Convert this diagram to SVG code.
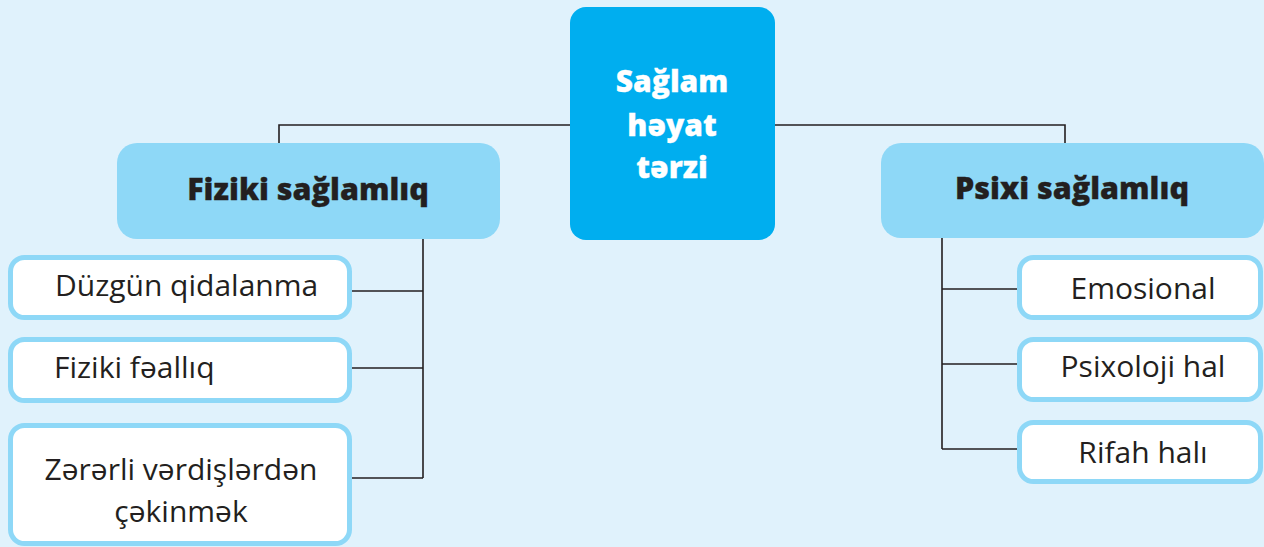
<svg xmlns="http://www.w3.org/2000/svg" width="1264" height="547" viewBox="0 0 1264 547">
<style>
.bg{fill:#E0F2FC}
.root{fill:#00AEEF}
.mid{fill:#8ED8F7}
.leaf{fill:#FFFFFF;stroke:#8ED8F7;stroke-width:5}
.conn{fill:none;stroke:#231F20;stroke-width:1.6}
.tr{font-family:"Open Sans","Noto Sans","Liberation Sans",sans-serif;font-size:30px;fill:#231F20}
.tb{font-family:"Open Sans","Noto Sans","Liberation Sans",sans-serif;font-size:30.5px;font-weight:800;fill:#231F20;stroke:#231F20;stroke-width:0.3}
.tw{font-family:"Open Sans","Noto Sans","Liberation Sans",sans-serif;font-size:30px;font-weight:800;fill:#FFFFFF;stroke:#FFFFFF;stroke-width:0.3}
</style>
<rect class="bg" x="0" y="0" width="1264" height="547"/>
<g id="connectors">
<path class="conn" d="M279,143 V125 H570 M775,125 H1065 V143"/>
<path class="conn" d="M423,236 V478 M352,291 H423 M352,368 H423 M352,478 H423"/>
<path class="conn" d="M942,236 V449 M942,289 H1019 M942,364 H1019 M942,449 H1019"/>
</g>
<g id="root">
<rect class="root" x="570" y="7" width="205" height="233" rx="16"/>
<text class="tw" x="672" y="92" text-anchor="middle">Sağlam</text>
<text class="tw" x="672" y="136" text-anchor="middle">həyat</text>
<text class="tw" x="672" y="178" text-anchor="middle">tərzi</text>
</g>
<g id="fiziki">
<rect class="mid" x="117" y="143" width="383" height="96" rx="20"/>
<text class="tb" x="308" y="200" text-anchor="middle">Fiziki sağlamlıq</text>
</g>
<g id="psixi">
<rect class="mid" x="881" y="143" width="383" height="95" rx="20"/>
<text class="tb" x="1072" y="199" text-anchor="middle">Psixi sağlamlıq</text>
</g>
<g id="duzgun">
<rect class="leaf" x="10.5" y="257.5" width="339" height="60" rx="14"/>
<text class="tr" x="55" y="296">Düzgün qidalanma</text>
</g>
<g id="fealliq">
<rect class="leaf" x="10.5" y="339.5" width="339" height="61" rx="14"/>
<text class="tr" x="54" y="378">Fiziki fəallıq</text>
</g>
<g id="zererli">
<rect class="leaf" x="10.5" y="425.5" width="339" height="118" rx="14"/>
<text class="tr" x="181" y="480" text-anchor="middle">Zərərli vərdişlərdən</text>
<text class="tr" x="181" y="522" text-anchor="middle">çəkinmək</text>
</g>
<g id="emosional">
<rect class="leaf" x="1019.5" y="257.5" width="241" height="60" rx="14"/>
<text class="tr" x="1143" y="299" text-anchor="middle">Emosional</text>
</g>
<g id="psixoloji">
<rect class="leaf" x="1019.5" y="339.5" width="241" height="60" rx="14"/>
<text class="tr" x="1143" y="377" text-anchor="middle">Psixoloji hal</text>
</g>
<g id="rifah">
<rect class="leaf" x="1019.5" y="422.5" width="241" height="59" rx="14"/>
<text class="tr" x="1143" y="463" text-anchor="middle">Rifah halı</text>
</g>
</svg>
